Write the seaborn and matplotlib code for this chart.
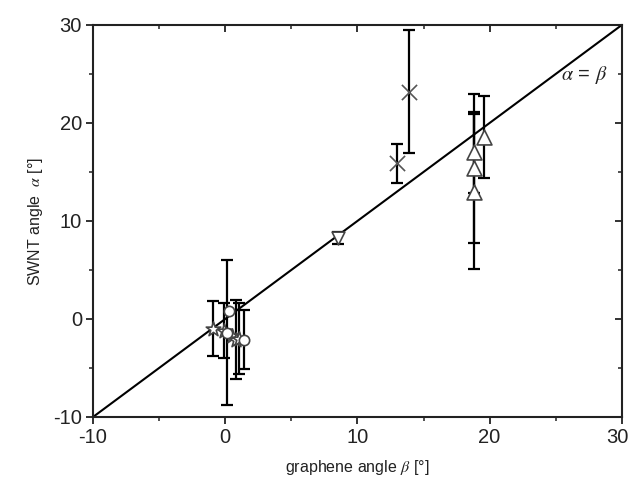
import numpy as np
import pandas as pd
import matplotlib
matplotlib.use("Agg")
import matplotlib.pyplot as plt
import matplotlib.transforms as mtransforms
from matplotlib.ticker import MultipleLocator
import seaborn as sns

# ---- data ----
star_x = [-0.93, -0.1, 0.5, 0.83, 1.08]
star_y = [-1.0, -1.2, -1.7, -2.1, -2.0]
star_err = [2.8, 2.8, 0.0, 4.0, 3.6]

circle_x = [0.13, 0.3, 1.44]
circle_y = [-1.4, 0.8, -2.1]
circle_err = [7.4, 0.0, 3.0]

down_x = [8.5]
down_y = [8.3]
down_err = [0.6]

cross_x = [13.0, 13.9]
cross_y = [15.9, 23.2]
cross_err = [2.0, 6.3]

tri_x = [18.8, 18.8, 18.8, 19.6]
tri_y = [17.0, 15.4, 13.0, 18.6]
tri_err = [4.1, 7.6, 7.9, 4.2]

line_x = [-10, 30]
line_y = [-10, 30]

x_ticks = [-10, 0, 10, 20, 30]
y_ticks = [-10, 0, 10, 20, 30]

groups = {
    "star": (star_x, star_y, star_err),
    "circle": (circle_x, circle_y, circle_err),
    "down": (down_x, down_y, down_err),
    "cross": (cross_x, cross_y, cross_err),
    "tri": (tri_x, tri_y, tri_err),
}
rows = []
for g, (xs, ys, es) in groups.items():
    for x, y, e in zip(xs, ys, es):
        rows.append({"beta": x, "alpha": y, "err": e, "kind": g})
df = pd.DataFrame(rows)

sns.set_style("ticks")
plt.rcParams["font.family"] = ["Liberation Sans", "DejaVu Sans"]
plt.rcParams["mathtext.fontset"] = "stix"
plt.rcParams["axes.unicode_minus"] = False

fig = plt.figure(figsize=(6.3, 4.88), dpi=100)
ax = fig.add_axes([0.1476, 0.1455, 0.8394, 0.8033])

sns.lineplot(x=line_x, y=line_y, ax=ax, color="black", lw=1.5, zorder=2)

# error bars
for _, r in df[df["err"] > 0].iterrows():
    ax.errorbar(r["beta"], r["alpha"], yerr=r["err"], fmt="none",
                ecolor="black", elinewidth=1.6, capsize=4.5, capthick=1.6,
                zorder=3)

markers = {"star": "*", "circle": "o", "down": "v", "cross": "x", "tri": "^"}
sizes = {"star": 120, "circle": 55, "down": 85, "cross": 120, "tri": 115}
for k in markers:
    sub = df[df["kind"] == k]
    if k == "cross":
        sns.scatterplot(data=sub, x="beta", y="alpha", marker="x", s=sizes[k],
                        color="#555555", linewidth=1.2, ax=ax, zorder=4,
                        legend=False)
    else:
        sns.scatterplot(data=sub, x="beta", y="alpha", marker=markers[k],
                        s=sizes[k], facecolor="white", edgecolor="#444444",
                        linewidth=1.2, ax=ax, zorder=4, legend=False)

ax.set_xlim(-10, 30)
ax.set_ylim(-10, 30)
ax.set_xticks(x_ticks)
ax.set_yticks(y_ticks)
ax.xaxis.set_minor_locator(MultipleLocator(5))
ax.yaxis.set_minor_locator(MultipleLocator(5))
ax.tick_params(which="major", direction="out", length=5, width=1.3,
               labelsize=14.5, colors="#222222", pad=3)
ax.tick_params(which="minor", direction="out", length=3, width=1.1,
               colors="#222222")

# nudge the last x tick label so it stays inside the figure
last_lbl = ax.get_xticklabels()[-1]
last_lbl.set_transform(last_lbl.get_transform() +
                       mtransforms.ScaledTranslation(-4 / 100, 0,
                                                     fig.dpi_scale_trans))

for side in ["top", "right"]:
    ax.spines[side].set_visible(True)
for s in ax.spines.values():
    s.set_linewidth(1.5)
    s.set_color("#222222")
sec_x = ax.secondary_xaxis("top")
sec_x.set_xticks(x_ticks)
sec_x.xaxis.set_minor_locator(MultipleLocator(5))
sec_x.tick_params(which="major", direction="in", length=5, width=1.3,
                  labeltop=False, colors="#222222")
sec_x.tick_params(which="minor", direction="in", length=3, width=1.1,
                  colors="#222222")
sec_x.spines["top"].set_visible(False)
sec_y = ax.secondary_yaxis("right")
sec_y.set_yticks(y_ticks)
sec_y.yaxis.set_minor_locator(MultipleLocator(5))
sec_y.tick_params(which="major", direction="in", length=5, width=1.3,
                  labelright=False, colors="#222222")
sec_y.tick_params(which="minor", direction="in", length=3, width=1.1,
                  colors="#222222")
sec_y.spines["right"].set_visible(False)

ax.set_xlabel(r"graphene angle $\beta$ [°]", fontsize=11.5, labelpad=8,
              color="#222222")
ax.set_ylabel(r"SWNT angle  $\alpha$ [°]", fontsize=11.5, labelpad=6,
              color="#222222")
ax.text(28.9, 24.9, r"$\alpha$ = $\beta$", fontsize=14.5, ha="right",
        va="center", color="#222222")

fig.savefig("out.png", dpi=100)
